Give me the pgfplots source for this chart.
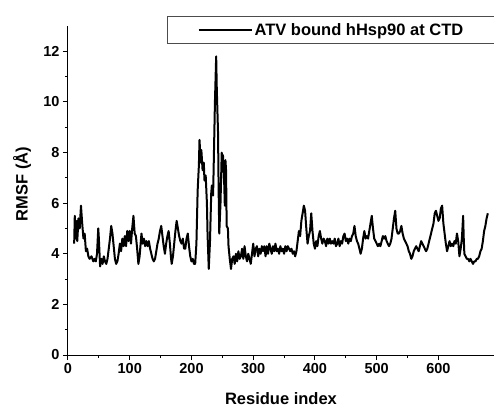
\documentclass[border=0pt]{standalone}
\usepackage{fontspec}
\setmainfont{Liberation Sans}
\usepackage{pgfplots}
\pgfplotsset{compat=1.18}
\usetikzlibrary{calc}
\pgfplotstableread{
x y
10 4.4
11 5.5
12 4.6
14 5.3
15 4.5
17 5.4
19 5.0
21 5.9
23 5.2
25 4.6
27 4.8
29 4.1
31 4.2
33 3.9
35 3.8
38 3.9
41 3.7
43 3.8
45 3.7
47 4.0
49 5.0
50 4.6
52 3.5
54 3.8
56 3.6
58 3.9
60 3.7
62 3.6
64 3.8
66 4.2
68 4.6
70 5.1
72 4.8
74 4.3
76 3.8
78 3.6
80 3.7
82 4.0
84 4.4
86 4.1
88 4.6
90 4.3
92 4.7
94 4.3
96 4.9
98 4.5
100 4.9
102 4.4
104 5.0
106 5.5
108 4.8
110 4.7
112 4.2
114 3.6
116 3.9
118 4.5
119 4.8
121 4.4
123 4.6
125 4.3
127 4.5
129 4.3
131 4.5
133 4.2
135 4.0
137 3.8
139 3.7
141 3.8
143 4.1
145 4.4
147 4.6
149 4.9
151 5.1
153 4.7
155 4.3
157 4.0
159 4.4
161 4.7
163 4.9
165 4.4
167 3.8
168 3.6
170 3.9
172 4.4
174 4.9
176 5.3
178 5.0
180 4.7
182 4.5
184 4.4
186 4.6
188 4.2
190 4.2
192 4.6
194 4.8
196 4.3
198 3.9
200 3.7
202 3.8
204 3.6
206 3.6
208 4.4
210 6.5
212 7.5
213 8.5
215 7.6
216 8.1
218 7.3
220 7.6
221 6.9
223 7.1
225 6.0
226 4.8
228 3.4
230 4.5
232 6.4
233 6.7
235 6.3
236 7.5
238 10.0
240 11.8
241 10.5
243 8.8
244 6.5
245 4.8
247 6.0
249 8.0
250 7.5
251 7.9
253 6.8
254 5.9
255 7.7
256 7.3
257 5.1
259 5.0
260 4.3
262 3.8
264 3.4
266 3.8
268 3.9
270 3.6
272 4.0
274 3.7
276 4.1
278 3.8
280 3.9
282 4.2
284 3.8
286 4.3
288 3.9
290 3.7
292 4.0
294 3.8
296 3.6
298 4.0
300 4.4
302 3.9
304 4.2
306 4.3
308 3.9
310 4.2
312 4.0
314 4.3
316 4.1
318 4.3
320 3.9
322 4.3
324 4.0
326 4.4
328 4.2
330 4.0
332 4.3
334 4.1
336 4.4
338 4.1
340 4.2
342 4.0
344 4.3
346 4.1
348 4.2
350 4.0
352 4.3
354 4.1
356 4.3
358 4.2
360 4.1
362 4.2
364 4.0
366 4.1
368 3.9
370 4.1
372 4.5
374 4.9
376 4.7
378 5.3
380 5.6
382 5.9
384 5.7
386 5.0
388 4.4
390 4.7
392 4.9
394 5.6
396 4.9
398 4.4
400 4.2
402 4.5
404 4.3
406 4.7
408 4.9
410 4.6
412 4.4
414 4.6
416 4.5
418 4.3
420 4.6
422 4.4
424 4.6
426 4.4
428 4.5
430 4.4
432 4.6
434 4.3
436 4.4
438 4.6
440 4.3
442 4.5
444 4.4
446 4.7
448 4.8
450 4.5
452 4.6
454 4.4
456 4.6
458 4.5
460 4.7
462 4.8
464 5.1
466 4.7
468 4.5
470 4.4
472 4.2
474 4.0
476 4.2
478 4.6
480 4.9
482 4.6
484 4.7
486 4.6
488 4.9
490 5.2
492 5.5
494 5.0
496 4.6
498 4.5
500 4.4
502 4.3
504 4.4
506 4.3
508 4.5
510 4.7
512 4.6
514 4.7
516 4.5
518 4.4
520 4.3
522 4.4
524 4.6
526 5.0
528 5.4
530 5.7
532 5.0
534 4.8
536 4.8
538 4.9
540 5.1
542 4.8
544 4.6
546 4.5
548 4.4
550 4.3
552 4.1
554 4.0
556 3.8
558 3.9
560 4.1
562 4.2
564 4.3
566 4.2
568 4.1
570 4.3
572 4.5
574 4.4
576 4.3
578 4.2
580 4.1
582 4.2
584 4.4
586 4.6
588 4.8
590 5.0
592 5.2
594 5.6
596 5.7
598 5.5
600 5.3
602 5.4
604 5.8
606 5.9
608 5.2
610 4.8
612 4.4
614 4.1
616 4.3
618 4.5
620 4.3
622 4.4
624 4.3
626 4.5
628 4.4
630 4.8
632 4.5
634 3.9
636 4.2
638 4.6
640 5.5
641 4.6
642 4.0
644 3.9
646 3.8
648 3.8
650 3.7
652 3.8
654 3.7
656 3.6
658 3.7
660 3.7
662 3.8
664 3.8
666 3.9
668 4.1
670 4.2
672 4.5
674 4.9
676 5.1
678 5.4
680 5.6
}\rmsf
\begin{document}
\begin{tikzpicture}
\begin{axis}[
  name=ax,
  scale only axis,
  width=426pt, height=329pt,
  xmin=0, xmax=690, ymin=0, ymax=13,
  axis lines=left,
  axis line style={-, line width=1pt},
  xtick={0,100,...,600},
  ytick={0,2,...,12},
  minor x tick num=1,
  minor y tick num=1,
  tick align=outside,
  major tick length=5pt,
  minor tick length=3pt,
  every tick/.style={black, line width=1pt},
  /pgf/number format/assume math mode=true,
  ticklabel style={font=\bfseries\fontsize{14.5}{16}\selectfont},
  xlabel={Residue index},
  ylabel={RMSF (Å)},
  label style={font=\bfseries\fontsize{16.5}{18}\selectfont},
  xlabel style={at={(rel axis cs:0.5,-0.131)}, anchor=center},
  ylabel style={at={(rel axis cs:-0.108,0.52)}, anchor=center},
  legend style={at={(rel axis cs:0.2324,1.0304)}, anchor=north west,
    draw=black!70, line width=0.8pt, inner xsep=30pt, inner ysep=5pt,
    font=\bfseries\fontsize{16.5}{18}\selectfont},
  legend cell align=left,
  legend image code/.code={\draw[#1, line width=2.2pt] (0pt,0pt) -- (53pt,0pt);},
  clip=false,
]
\addplot[black, line width=2pt, line join=round] table[x=x, y=y] {\rmsf};
\addlegendentry{ATV bound hHsp90 at CTD}
\end{axis}
\pgfresetboundingbox
\path ($(ax.south west)+(-68pt,-53pt)$) rectangle ($(ax.south west)+(426pt,355pt)$);
\end{tikzpicture}
\end{document}
